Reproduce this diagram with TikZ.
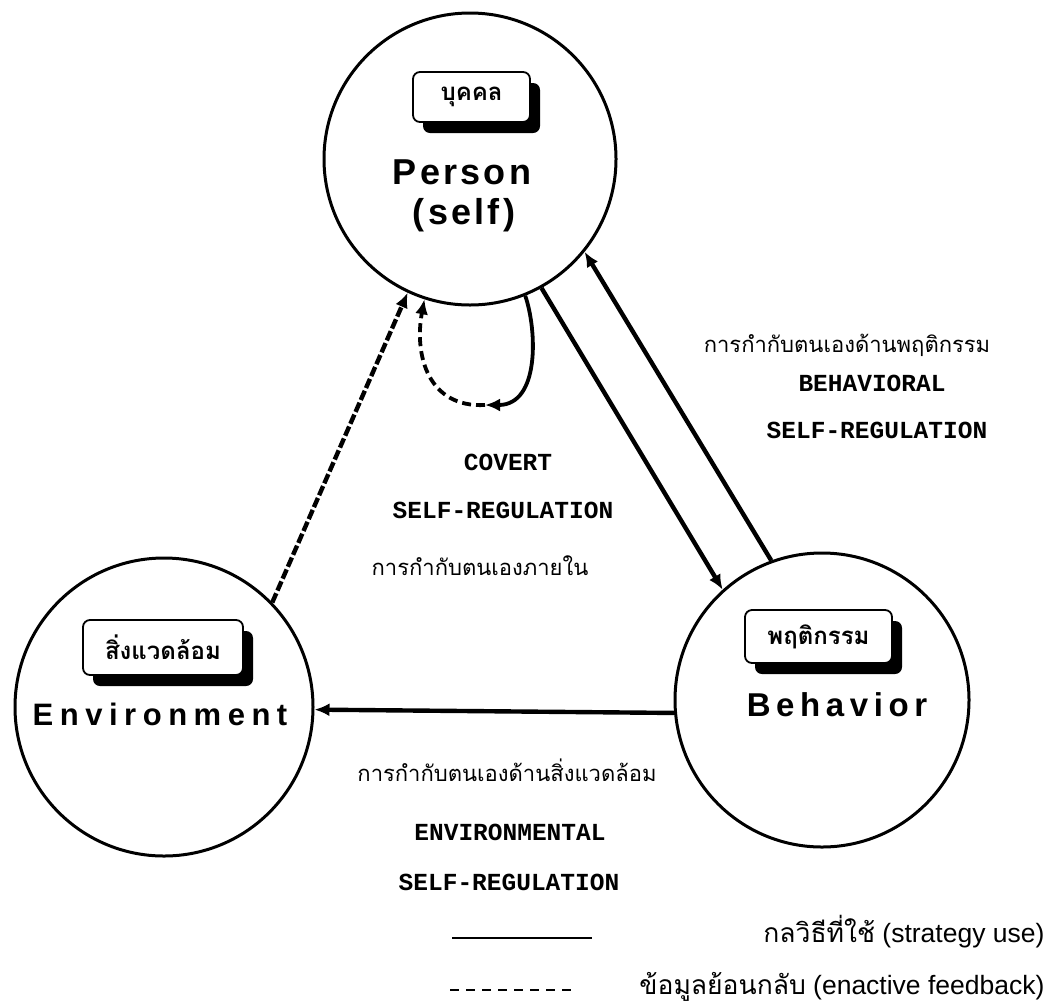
\documentclass[tikz,border=0pt]{standalone}
\usepackage{fontspec}
\setmainfont{Liberation Sans}
\newfontfamily\thaifont[Script=Thai]{Loma}
\newfontfamily\monofont{Liberation Mono}
\newfontfamily\bigP[LetterSpace=9]{Liberation Sans}
\newfontfamily\bigE[LetterSpace=21]{Liberation Sans}
\newfontfamily\bigB[LetterSpace=17]{Liberation Sans}
\usetikzlibrary{arrows.meta,shadows}
\begin{document}
\begin{tikzpicture}[x=1pt,y=-1pt,
  circ/.style={circle, draw, line width=3pt, inner sep=0pt, fill=white},
  tbox/.style={draw, line width=1.8pt, rounded corners=7pt, fill=white, inner sep=0pt,
    drop shadow={shadow xshift=10pt, shadow yshift=-11pt, fill=black, opacity=1},
    font=\thaifont\bfseries\fontsize{24}{28}\selectfont},
  strat/.style={line width=4.4pt},
  feed/.style={line width=4.4pt, dash pattern=on 10pt off 3pt},
  tipA/.style={-{Latex[length=15pt,width=13pt]}},
  mono/.style={font=\monofont\bfseries\fontsize{24.5}{28}\selectfont},
  thai/.style={font=\thaifont\fontsize{22}{26}\selectfont},
  legend/.style={anchor=base east, font=\fontsize{26.5}{30}\selectfont},
]
\useasboundingbox[fill=white] (0,0) rectangle (1056,1007);

% circles
\node[circ, minimum size=292pt] (P) at (470,159) {};
\node[circ, minimum size=298pt] (E) at (164,707) {};
\node[circ, minimum size=294pt] (B) at (822,700) {};

% label boxes
\node[tbox, minimum width=117pt, minimum height=50pt] (pt) at (471.5,97) {บุคคล};
\node[tbox, minimum width=160pt, minimum height=55pt] (et) at (163,647.5) {สิ่งแวดล้อม};
\node[tbox, minimum width=147pt, minimum height=53pt] (bt) at (818.5,636.5) {พฤติกรรม};

% big labels
\node[font=\bigP\bfseries\fontsize{36}{40}\selectfont] (pn) at (462,172) {Person};
\node[font=\bigP\bfseries\fontsize{36}{40}\selectfont] (ps) at (464,215) {(self)};
\node[font=\bigE\bfseries\fontsize{31}{36}\selectfont] (en) at (160,714) {Environment};
\node[font=\bigB\bfseries\fontsize{33}{38}\selectfont] (bn) at (837,705) {Behavior};

% connectors
\draw[strat, tipA] (P.-61.7) -- (B.132.8);
\draw[strat, tipA] (B.110.4) -- (P.-39.4);
\draw[strat, tipA] (B.-175.3) -- (E.-1.0);
\draw[feed, tipA] (E.44) -- (P.-115.2);
\coordinate (lm) at (485,405);
\draw[strat, line width=3.8pt, tipA] (P.-68.7) .. controls (537,330) and (540,405) .. (lm);
\draw[line width=3.8pt, dash pattern=on 9pt off 5pt, tipA] (lm) .. controls (428,408) and (414,355) .. (P.-108.4);

% texts
\node[thai] (tb1) at (847,345) {การกำกับตนเองด้านพฤติกรรม};
\node[mono] (tb2) at (872,383) {BEHAVIORAL};
\node[mono] (tb3) at (877,430) {SELF-REGULATION};
\node[mono] (tc1) at (508,462) {COVERT};
\node[mono] (tc2) at (503,510) {SELF-REGULATION};
\node[thai] (tc3) at (480,566) {การกำกับตนเองภายใน};
\node[thai] (te1) at (507,770) {การกำกับตนเองด้านสิ่งแวดล้อม};
\node[mono] (te2) at (510,832) {ENVIRONMENTAL};
\node[mono] (te3) at (509,882) {SELF-REGULATION};

% legend
\coordinate (s1) at (452,938);
\coordinate (s2) at (592,938);
\draw[line width=2.8pt] (s1) -- (s2);
\coordinate (d1) at (450,990);
\coordinate (d2) at (577,990);
\draw[line width=2.4pt, dash pattern=on 9pt off 7pt] (d1) -- (d2);
\node[legend] (l1) at (1048,942) {{\thaifont กลวิธีที่ใช้} (strategy use)};
\node[legend] (l2) at (1048,994) {{\thaifont ข้อมูลย้อนกลับ} (enactive feedback)};
\end{tikzpicture}
\end{document}
